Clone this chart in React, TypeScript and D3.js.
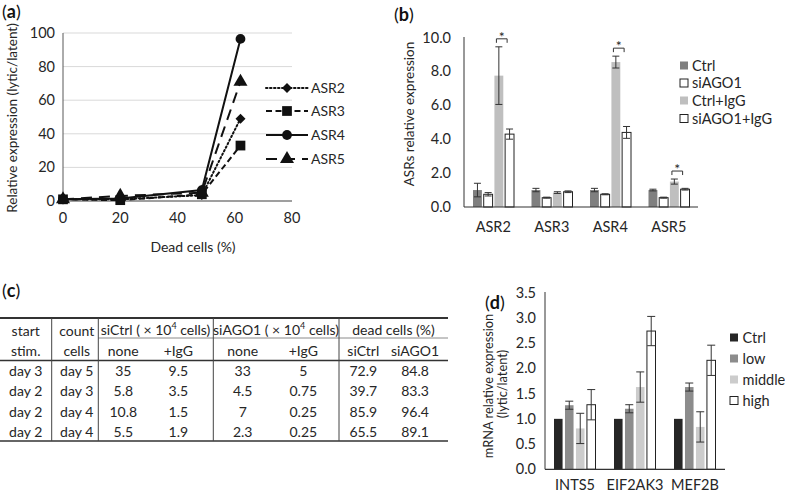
import React from 'react';
import * as d3 from 'd3';

const FONT = "Lato, 'Open Sans', sans-serif";
const TXT = '#262626';

// ---------- Panel (a) ----------
const deadCells = [0, 20, 48.5, 62];
const asrNames = ['ASR2', 'ASR3', 'ASR4', 'ASR5'];
const asr2 = [1, 1, 3.5, 49];
const asr3 = [1, 0.5, 4, 33];
const asr4 = [1, 1.5, 6.5, 96.5];
const asr5 = [1, 3, 5, 71];
const aYTicks = [0, 20, 40, 60, 80, 100];
const aXTicks = [0, 20, 40, 60, 80];

// ---------- Panel (b) ----------
const bCategories = ['ASR2', 'ASR3', 'ASR4', 'ASR5'];
const bGroups = ['Ctrl', 'siAGO1', 'Ctrl+IgG', 'siAGO1+IgG'];
const bCtrl = [1.0, 1.0, 1.0, 1.0];
const bCtrlErr = [0.4, 0.1, 0.1, 0.05];
const bSiAGO1 = [0.75, 0.55, 0.75, 0.55];
const bSiAGO1Err = [0.1, 0.03, 0.03, 0.03];
const bCtrlIgG = [7.75, 0.85, 8.55, 1.5];
const bCtrlIgGErr = [1.7, 0.05, 0.35, 0.15];
const bSiAGO1IgG = [4.3, 0.9, 4.4, 1.05];
const bSiAGO1IgGErr = [0.3, 0.05, 0.35, 0.05];
const bSignificant = ['ASR2', 'ASR4', 'ASR5'];
const bYTicks = [0, 2, 4, 6, 8, 10];

// ---------- Panel (c) ----------
const cStart = ['day 3', 'day 2', 'day 2', 'day 2'];
const cCount = ['day 5', 'day 3', 'day 4', 'day 4'];
const cSiCtrlNone = ['35', '5.8', '10.8', '5.5'];
const cSiCtrlIgG = ['9.5', '3.5', '1.5', '1.9'];
const cSiAGONone = ['33', '4.5', '7', '2.3'];
const cSiAGOIgG = ['5', '0.75', '0.25', '0.25'];
const cDeadSiCtrl = ['72.9', '39.7', '85.9', '65.5'];
const cDeadSiAGO = ['84.8', '83.3', '96.4', '89.1'];

// ---------- Panel (d) ----------
const dCategories = ['INTS5', 'EIF2AK3', 'MEF2B'];
const dGroups = ['Ctrl', 'low', 'middle', 'high'];
const dCtrl = [1, 1, 1];
const dLow = [1.27, 1.2, 1.63];
const dLowErr = [0.08, 0.08, 0.08];
const dMiddle = [0.81, 1.63, 0.84];
const dMiddleErr = [0.3, 0.3, 0.3];
const dHigh = [1.28, 2.74, 2.16];
const dHighErr = [0.3, 0.29, 0.3];
const dYTicks = [0, 0.5, 1, 1.5, 2, 2.5, 3, 3.5];

function Label({ x, y, letter }: { x: number; y: number; letter: string }) {
  return (
    <text x={x} y={y} fontFamily={FONT} fontSize={18} fill="#111">
      (<tspan fontWeight="bold">{letter}</tspan>)
    </text>
  );
}

function PanelA() {
  const x = d3.scaleLinear().domain([0, 80]).range([63, 292]);
  const y = d3.scaleLinear().domain([0, 100]).range([201, 33]);
  const series = [asr2, asr3, asr4, asr5];
  const dashes = ['1.5,2.5', '6,3.5', '', '11,7'];
  const symbols = [d3.symbolSquare, d3.symbolSquare, d3.symbolCircle, d3.symbolTriangle];
  const sizes = [50, 95, 75, 85];
  const rot = [45, 0, 0, 0];
  const line = d3.line<number>().x((_, i) => x(deadCells[i])).y((v) => y(v));
  const legendY = [88, 111, 135, 159];
  return (
    <g>
      <Label x={2} y={18} letter="a" />
      {aYTicks.map((t) => (
        <g key={t}>
          {t > 0 && <line x1={x(0)} x2={x(80)} y1={y(t)} y2={y(t)} stroke="#d9d9d9" strokeWidth={1} />}
          <text x={55} y={y(t) + 5} textAnchor="end" fontFamily={FONT} fontSize={14.5} fill={TXT}>{t}</text>
        </g>
      ))}
      <line x1={x(0)} x2={x(0)} y1={y(100)} y2={y(0)} stroke="#595959" strokeWidth={1} />
      <line x1={x(0)} x2={x(80)} y1={y(0)} y2={y(0)} stroke="#404040" strokeWidth={1.2} />
      {aXTicks.map((t) => (
        <text key={t} x={x(t)} y={223} textAnchor="middle" fontFamily={FONT} fontSize={14.5} fill={TXT}>{t}</text>
      ))}
      <text x={193} y={252} textAnchor="middle" fontFamily={FONT} fontSize={14} fill={TXT}>Dead cells (%)</text>
      <text transform={`translate(17,118) rotate(-90)`} textAnchor="middle" fontFamily={FONT} fontSize={13.5} fill={TXT}>
        Relative expression (lytic/latent)
      </text>
      {series.map((s, k) => (
        <g key={k}>
          <path d={line(s) || ''} fill="none" stroke="#111" strokeWidth={2} strokeDasharray={dashes[k]} strokeLinecap={k === 0 ? 'round' : 'butt'} />
          {s.map((v, i) => (
            <path key={i} d={d3.symbol(symbols[k], sizes[k])() || ''} transform={`translate(${x(deadCells[i])},${y(v)}) rotate(${rot[k]})`} fill="#111" />
          ))}
        </g>
      ))}
      {asrNames.map((n, k) => (
        <g key={n}>
          <line x1={266} x2={308} y1={legendY[k]} y2={legendY[k]} stroke="#111" strokeWidth={2} strokeDasharray={dashes[k]} strokeLinecap={k === 0 ? 'round' : 'butt'} />
          <path d={d3.symbol(symbols[k], sizes[k])() || ''} transform={`translate(287,${legendY[k]}) rotate(${rot[k]})`} fill="#111" />
          <text x={311} y={legendY[k] + 5} fontFamily={FONT} fontSize={14} fill={TXT}>{n}</text>
        </g>
      ))}
    </g>
  );
}

function PanelB() {
  const x0 = d3.scaleBand().domain(bCategories).range([464, 698]);
  const x1 = d3.scaleBand().domain(bGroups).range([9, 50]).paddingInner(0.17);
  const y = d3.scaleLinear().domain([0, 10]).range([207, 37.5]);
  const vals = [bCtrl, bSiAGO1, bCtrlIgG, bSiAGO1IgG];
  const errs = [bCtrlErr, bSiAGO1Err, bCtrlIgGErr, bSiAGO1IgGErr];
  const fills = ['#7f7f7f', '#ffffff', '#bfbfbf', '#ffffff'];
  const strokes = ['none', '#222', 'none', '#222'];
  const bw = x1.bandwidth();
  const legendY = [65.5, 83, 100.5, 118.5];
  return (
    <g>
      <Label x={394} y={21} letter="b" />
      {bYTicks.map((t) => (
        <text key={t} x={451} y={y(t) + 5} textAnchor="end" fontFamily={FONT} fontSize={14.5} fill={TXT}>{t.toFixed(1)}</text>
      ))}
      <text transform={`translate(414,114) rotate(-90)`} textAnchor="middle" fontFamily={FONT} fontSize={13.5} fill={TXT}>
        ASRs relative expression
      </text>
      {bCategories.map((c, ci) => (
        <g key={c}>
          {bGroups.map((g, gi) => {
            const bx = (x0(c) || 0) + (x1(g) || 0);
            const v = vals[gi][ci];
            const e = errs[gi][ci];
            const cx = bx + bw / 2;
            return (
              <g key={g}>
                <rect x={bx} y={y(v)} width={bw} height={y(0) - y(v)} fill={fills[gi]} stroke={strokes[gi]} strokeWidth={1} />
                <line x1={cx} x2={cx} y1={y(v + e)} y2={y(v - e)} stroke="#333" strokeWidth={1} />
                <line x1={cx - 3.5} x2={cx + 3.5} y1={y(v + e)} y2={y(v + e)} stroke="#333" strokeWidth={1} />
                <line x1={cx - 3.5} x2={cx + 3.5} y1={y(v - e)} y2={y(v - e)} stroke="#333" strokeWidth={1} />
              </g>
            );
          })}
          {bSignificant.includes(c) && (() => {
            const xa = (x0(c) || 0) + (x1('Ctrl+IgG') || 0) + 2;
            const xb = (x0(c) || 0) + (x1('siAGO1+IgG') || 0) + 2;
            const top = Math.max(bCtrlIgG[ci] + bCtrlIgGErr[ci], bSiAGO1IgG[ci] + bSiAGO1IgGErr[ci]);
            const by = y(top) - 8;
            return (
              <g>
                <path d={`M${xa},${by + 4}V${by}H${xb}V${by + 4}`} fill="none" stroke="#333" strokeWidth={1} />
                <text x={(xa + xb) / 2} y={by + 3} textAnchor="middle" fontFamily={FONT} fontSize={14} fill={TXT}>*</text>
              </g>
            );
          })()}
          <text x={(x0(c) || 0) + x0.bandwidth() / 2} y={232} textAnchor="middle" fontFamily={FONT} fontSize={14.5} fill={TXT}>{c}</text>
        </g>
      ))}
      <line x1={464} x2={464} y1={37} y2={207} stroke="#333" strokeWidth={1} />
      <line x1={464} x2={698} y1={207} y2={207} stroke="#333" strokeWidth={1.2} />
      {bGroups.map((g, gi) => (
        <g key={g}>
          <rect x={680} y={legendY[gi] - 4} width={8} height={8} fill={fills[gi]} stroke={strokes[gi]} strokeWidth={1} />
          <text x={692} y={legendY[gi] + 5} fontFamily={FONT} fontSize={14.5} fill={TXT}>{g}</text>
        </g>
      ))}
    </g>
  );
}

function PanelC() {
  const colX = [25.7, 76.7, 123.3, 178.3, 242.7, 303.3, 363.3, 415];
  const cols = [cStart, cCount, cSiCtrlNone, cSiCtrlIgG, cSiAGONone, cSiAGOIgG, cDeadSiCtrl, cDeadSiAGO];
  const rowY = [371, 391.3, 411.6, 431.9];
  const vLines = [51.7, 98.3, 213.3, 339];
  const sub = ['none', '+IgG', 'none', '+IgG', 'siCtrl', 'siAGO1'];
  const fs = 14;
  return (
    <g fontFamily={FONT} fontSize={fs} fill={TXT}>
      <Label x={2} y={297} letter="c" />
      <line x1={0} x2={448} y1={318} y2={318} stroke="#333" strokeWidth={2} />
      <line x1={98.3} x2={448} y1={338} y2={338} stroke="#8a8a8a" strokeWidth={1} />
      <line x1={0} x2={448} y1={360.5} y2={360.5} stroke="#333" strokeWidth={1.5} />
      <line x1={0} x2={448} y1={441} y2={441} stroke="#333" strokeWidth={1.5} />
      {vLines.map((vx) => (
        <line key={vx} x1={vx} x2={vx} y1={318} y2={441} stroke="#444" strokeWidth={1} />
      ))}
      <text x={colX[0]} y={336} textAnchor="middle">start</text>
      <text x={colX[0]} y={356} textAnchor="middle">stim.</text>
      <text x={colX[1]} y={336} textAnchor="middle">count</text>
      <text x={colX[1]} y={356} textAnchor="middle">cells</text>
      <text x={155.5} y={335} textAnchor="middle">
        siCtrl ( × 10<tspan fontSize={9} dy={-6}>4</tspan><tspan dy={6}> cells)</tspan>
      </text>
      <text x={276} y={335} textAnchor="middle">
        siAGO1 ( × 10<tspan fontSize={9} dy={-6}>4</tspan><tspan dy={6}> cells)</tspan>
      </text>
      <text x={393.5} y={335} textAnchor="middle">dead cells (%)</text>
      {sub.map((s, i) => (
        <text key={i} x={colX[i + 2]} y={356} textAnchor="middle">{s}</text>
      ))}
      {cols.map((col, ci) =>
        col.map((v, ri) => (
          <text key={`${ci}-${ri}`} x={colX[ci]} y={rowY[ri] + 5} textAnchor="middle">{v}</text>
        ))
      )}
    </g>
  );
}

function PanelD() {
  const x0 = d3.scaleBand().domain(dCategories).range([545, 725]);
  const x1 = d3.scaleBand().domain(dGroups).range([9, 50.5]).paddingInner(0.22);
  const y = d3.scaleLinear().domain([0, 3.5]).range([469.3, 292.7]);
  const vals = [dCtrl, dLow, dMiddle, dHigh];
  const errs = [null, dLowErr, dMiddleErr, dHighErr];
  const fills = ['#262626', '#8c8c8c', '#cccccc', '#ffffff'];
  const strokes = ['none', 'none', 'none', '#222'];
  const bw = x1.bandwidth();
  const legendY = [337.5, 358.5, 379.5, 400.5];
  return (
    <g>
      <Label x={485} y={309} letter="d" />
      {dYTicks.map((t) => (
        <text key={t} x={536} y={y(t) + 5} textAnchor="end" fontFamily={FONT} fontSize={14.5} fill={TXT}>{t.toFixed(1)}</text>
      ))}
      <text transform={`translate(493,386) rotate(-90)`} textAnchor="middle" fontFamily={FONT} fontSize={12.8} fill={TXT}>
        mRNA relative expression
      </text>
      <text transform={`translate(507,384) rotate(-90)`} textAnchor="middle" fontFamily={FONT} fontSize={12.8} fill={TXT}>
        (lytic/latent)
      </text>
      {dCategories.map((c, ci) => (
        <g key={c}>
          {dGroups.map((g, gi) => {
            const bx = (x0(c) || 0) + (x1(g) || 0);
            const v = vals[gi][ci];
            const ea = errs[gi];
            const cx = bx + bw / 2;
            return (
              <g key={g}>
                <rect x={bx} y={y(v)} width={bw} height={y(0) - y(v)} fill={fills[gi]} stroke={strokes[gi]} strokeWidth={1} />
                {ea && (
                  <g stroke="#333" strokeWidth={1}>
                    <line x1={cx} x2={cx} y1={y(v + ea[ci])} y2={y(v - ea[ci])} />
                    <line x1={cx - 4} x2={cx + 4} y1={y(v + ea[ci])} y2={y(v + ea[ci])} />
                    <line x1={cx - 4} x2={cx + 4} y1={y(v - ea[ci])} y2={y(v - ea[ci])} />
                  </g>
                )}
              </g>
            );
          })}
          <text x={(x0(c) || 0) + x0.bandwidth() / 2} y={490} textAnchor="middle" fontFamily={FONT} fontSize={14.5} fill={TXT}>{c}</text>
        </g>
      ))}
      <line x1={545} x2={545} y1={292} y2={469.3} stroke="#333" strokeWidth={1} />
      <line x1={545} x2={725} y1={469.3} y2={469.3} stroke="#333" strokeWidth={1.2} />
      {dGroups.map((g, gi) => (
        <g key={g}>
          <rect x={730} y={legendY[gi] - 4} width={8} height={8} fill={fills[gi]} stroke={gi === 3 ? '#222' : 'none'} strokeWidth={1} />
          <text x={742.5} y={legendY[gi] + 5} fontFamily={FONT} fontSize={14.5} fill={TXT}>{g}</text>
        </g>
      ))}
    </g>
  );
}

export default function App() {
  return (
    <svg width={785} height={493} style={{ position: 'absolute', left: 0, top: 0, background: '#fff' }}>
      <rect width={785} height={493} fill="#fff" />
      <PanelA />
      <PanelB />
      <PanelC />
      <PanelD />
    </svg>
  );
}
